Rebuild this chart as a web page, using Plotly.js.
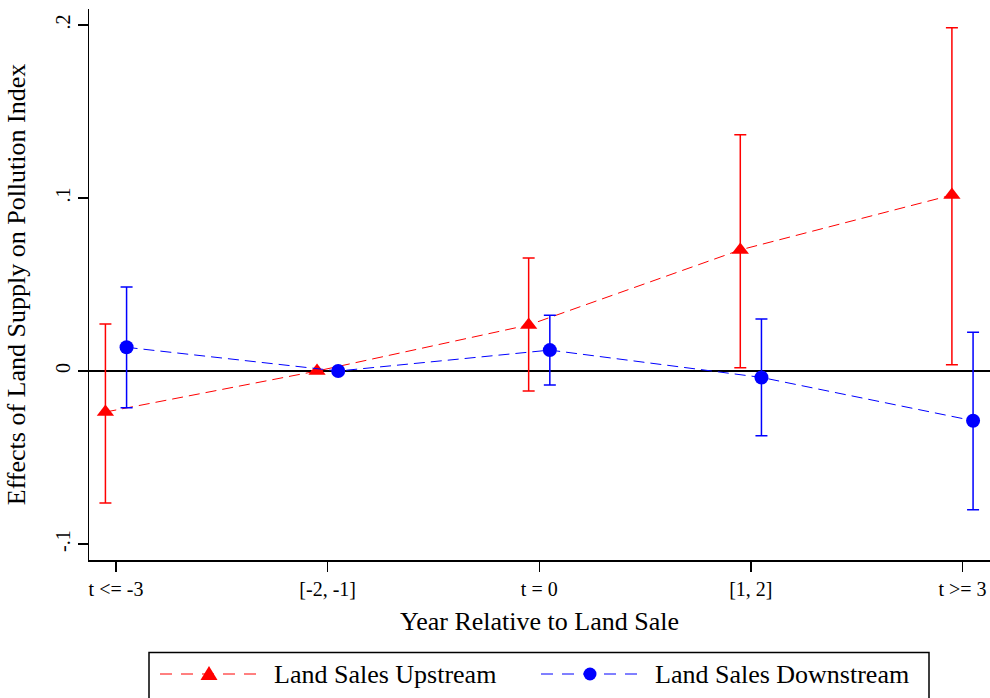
<!DOCTYPE html>
<html>
<head>
<meta charset="utf-8">
<script src="https://cdn.plot.ly/plotly-3.0.1.min.js"></script>
<style>html,body{margin:0;padding:0;background:#fff;}#chart{width:990px;height:698px;}</style>
</head>
<body>
<div id="chart"></div>
<script>
const categories = ["t <= -3", "[-2, -1]", "t = 0", "[1, 2]", "t >= 3"];
const catPos = [0, 1, 2, 3, 4];

const upstreamCoef = [-0.0237, 0.0, 0.0266, 0.0700, 0.1017];
const upstreamHi   = [0.0272, 0.0, 0.0653, 0.1366, 0.1983];
const upstreamLo   = [-0.0763, 0.0, -0.0116, 0.0019, 0.0036];

const downstreamCoef = [0.0137, 0.0, 0.0121, -0.0037, -0.0287];
const downstreamHi   = [0.0486, 0.0, 0.0322, 0.0300, 0.0224];
const downstreamLo   = [-0.0212, 0.0, -0.0081, -0.0374, -0.0802];

const yTickVals = [-0.1, 0, 0.1, 0.2];
const yTickText = ["-.1", "0", ".1", ".2"];

const seriesNames = ["Land Sales Upstream", "Land Sales Downstream"];
const seriesColors = ["#ff0000", "#0000ff"];

const offset = 0.05;
function errs(coef, hi, lo) {
  return {
    plus: coef.map((c, i) => hi[i] - c),
    minus: coef.map((c, i) => c - lo[i])
  };
}
const ue = errs(upstreamCoef, upstreamHi, upstreamLo);
const de = errs(downstreamCoef, downstreamHi, downstreamLo);

const FONT = "Liberation Serif, Times New Roman, serif";

const traces = [
  {
    name: seriesNames[0],
    x: catPos.map(p => p - offset),
    y: upstreamCoef,
    mode: "lines+markers",
    line: {color: seriesColors[0], width: 1, dash: "11px,6px"},
    marker: {symbol: "triangle-up", size: 15, color: seriesColors[0]},
    error_y: {type: "data", symmetric: false, array: ue.plus, arrayminus: ue.minus,
              color: seriesColors[0], thickness: 1.5, width: 6}
  },
  {
    name: seriesNames[1],
    x: catPos.map(p => p + offset),
    y: downstreamCoef,
    mode: "lines+markers",
    line: {color: seriesColors[1], width: 1, dash: "11px,6px"},
    marker: {symbol: "circle", size: 14, color: seriesColors[1]},
    error_y: {type: "data", symmetric: false, array: de.plus, arrayminus: de.minus,
              color: seriesColors[1], thickness: 1.5, width: 6}
  }
];

// Plot area in pixels (for converting legend box positions to paper coords)
const M = {l: 89, r: 0, t: 9, b: 138};
const W = 990, H = 698;
const pw = W - M.l - M.r, ph = H - M.t - M.b;
const px = v => (v - M.l) / pw;
const py = v => (H - M.b - v) / ph;

const legY = 674;
const shapes = [
  // legend box
  {type: "rect", xref: "paper", yref: "paper", x0: px(149), x1: px(929), y0: py(700), y1: py(652.5),
   line: {color: "#000", width: 1.5}, fillcolor: "rgba(0,0,0,0)"},
  // upstream legend line
  {type: "line", xref: "paper", yref: "paper", x0: px(160), x1: px(257), y0: py(legY), y1: py(legY),
   line: {color: seriesColors[0], width: 1, dash: "12px,9px"}},
  // upstream legend triangle
  {type: "path", xref: "paper", yref: "paper", xsizemode: "pixel", ysizemode: "pixel",
   xanchor: px(209), yanchor: py(legY), path: "M -8.5,-6 L 8.5,-6 L 0,8 Z",
   fillcolor: seriesColors[0], line: {color: seriesColors[0], width: 0}},
  // downstream legend line
  {type: "line", xref: "paper", yref: "paper", x0: px(541), x1: px(638), y0: py(legY), y1: py(legY),
   line: {color: seriesColors[1], width: 1, dash: "12px,9px"}},
  // downstream legend circle
  {type: "circle", xref: "paper", yref: "paper", xsizemode: "pixel", ysizemode: "pixel",
   xanchor: px(590), yanchor: py(legY), x0: -6.5, x1: 6.5, y0: -6.5, y1: 6.5,
   fillcolor: seriesColors[1], line: {color: seriesColors[1], width: 0}}
];

const annotations = [
  {xref: "paper", yref: "paper", x: px(272), y: py(legY), xanchor: "left", yanchor: "middle",
   text: seriesNames[0], showarrow: false, font: {size: 26, family: FONT, color: "#000"}},
  {xref: "paper", yref: "paper", x: px(653), y: py(legY), xanchor: "left", yanchor: "middle",
   text: seriesNames[1], showarrow: false, font: {size: 26, family: FONT, color: "#000"}}
];

const layout = {
  width: W, height: H,
  margin: {l: M.l, r: M.r, t: M.t, b: M.b, autoexpand: false},
  paper_bgcolor: "#fff", plot_bgcolor: "#fff",
  font: {family: FONT, color: "#000", size: 20},
  showlegend: false,
  xaxis: {
    range: [-0.1276, 4.13],
    tickvals: catPos, ticktext: categories,
    showgrid: false, zeroline: false,
    showline: true, linecolor: "#000", linewidth: 1.5,
    ticks: "outside", ticklen: 10, tickcolor: "#000", tickwidth: 1.5,
    tickfont: {size: 20, family: FONT},
    title: {text: "Year Relative to Land Sale", font: {size: 26, family: FONT}, standoff: 13}
  },
  yaxis: {
    range: [-0.1092, 0.2092],
    tickvals: yTickVals, ticktext: yTickText,
    tickangle: -90,
    showgrid: false,
    zeroline: true, zerolinecolor: "#000", zerolinewidth: 1.2,
    showline: true, linecolor: "#000", linewidth: 1.5,
    ticks: "outside", ticklen: 10, tickcolor: "#000", tickwidth: 1.5,
    tickfont: {size: 20, family: FONT},
    title: {text: "Effects of Land Supply on Pollution Index", font: {size: 26, family: FONT}, standoff: 18}
  },
  shapes: shapes,
  annotations: annotations
};

Plotly.newPlot("chart", traces, layout, {displayModeBar: false, staticPlot: true});
</script>
</body>
</html>
